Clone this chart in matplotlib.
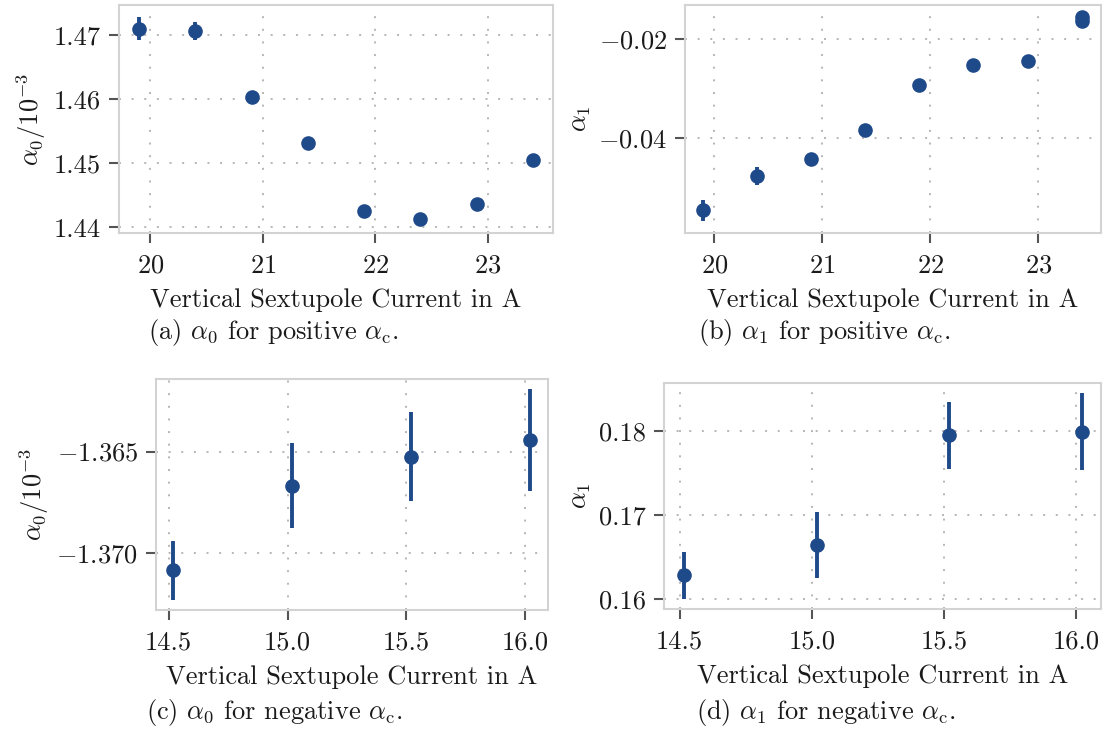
import matplotlib
matplotlib.use("Agg")
import matplotlib.pyplot as plt
import numpy as np

# ---- data ----
x_pos = [19.9, 20.4, 20.9, 21.4, 21.9, 22.4, 22.9, 23.4]
a0_pos = [1.4710, 1.4706, 1.4604, 1.4531, 1.4426, 1.4413, 1.4437, 1.4505]
a0_pos_err = [0.0018, 0.0014, 0.0002, 0.0002, 0.0002, 0.0002, 0.0002, 0.0002]

x_pos_b = [19.9, 20.4, 20.9, 21.4, 21.9, 22.4, 22.9, 23.4, 23.4]
a1_pos = [-0.0548, -0.0478, -0.0444, -0.0384, -0.0293, -0.0253, -0.0244, -0.0155, -0.0163]
a1_pos_err = [0.0022, 0.0018, 0.0003, 0.0003, 0.0003, 0.0003, 0.0003, 0.0003, 0.0003]

x_neg = [14.52, 15.02, 15.52, 16.02]
a0_neg = [-1.37084, -1.36667, -1.36525, -1.36444]
a0_neg_err = [0.00146, 0.00208, 0.00218, 0.0025]

x_neg_d = [14.516, 15.02, 15.52, 16.02]
a1_neg = [0.16285, 0.16646, 0.17949, 0.17992]
a1_neg_err = [0.0028, 0.0039, 0.0040, 0.0046]

xlabel = "Vertical Sextupole Current in A"
captions = [r"(a) $\alpha_0$ for positive $\alpha_\mathrm{c}$.",
            r"(b) $\alpha_1$ for positive $\alpha_\mathrm{c}$.",
            r"(c) $\alpha_0$ for negative $\alpha_\mathrm{c}$.",
            r"(d) $\alpha_1$ for negative $\alpha_\mathrm{c}$."]

plt.rcParams['font.family'] = ['cmr10', 'DejaVu Serif']
plt.rcParams['mathtext.fontset'] = 'cm'
plt.rcParams['axes.formatter.use_mathtext'] = True
plt.rcParams['axes.unicode_minus'] = True

COLOR = '#1f4a8a'
TXT = '#1a1a1a'
FS = 19
W, H = 1103, 734
fig = plt.figure(figsize=(W / 100, H / 100), dpi=100)


def add_ax(l, t, r, b):
    return fig.add_axes([l / W, 1 - b / H, (r - l) / W, (b - t) / H])


def style(ax):
    for s in ax.spines.values():
        s.set_color('#d3d3d3')
        s.set_linewidth(1.5)
    ax.tick_params(direction='out', length=7, width=1.5, color='#555555',
                   labelsize=FS, labelcolor=TXT, pad=6)
    ax.tick_params(axis='x', pad=8)
    ax.grid(True, linestyle=(0, (1, 5.5)), color='#b5b5b5', linewidth=1.4)
    ax.set_axisbelow(True)


def draw(ax, x, y, e):
    ax.errorbar(x, y, yerr=e, fmt='o', color=COLOR, ms=9.5, elinewidth=2.8,
                capsize=0, zorder=3)


# (a)
ax1 = add_ax(119, 5, 553, 233)
draw(ax1, x_pos, a0_pos, a0_pos_err)
ax1.set_xlim(19.72, 23.58)
ax1.set_ylim(1.4391, 1.4747)
ax1.set_xticks([20, 21, 22, 23])
ax1.set_yticks([1.44, 1.45, 1.46, 1.47])
ax1.set_yticklabels(['1.44', '1.45', '1.46', '1.47'])
ax1.set_ylabel(r"$\alpha_0/10^{-3}$", fontsize=FS, color=TXT)

# (b)
ax2 = add_ax(685, 5, 1101, 233)
draw(ax2, x_pos_b, a1_pos, a1_pos_err)
ax2.set_xlim(19.73, 23.58)
ax2.set_ylim(-0.0594, -0.0130)
ax2.set_xticks([20, 21, 22, 23])
ax2.set_yticks([-0.04, -0.02])
ax2.set_yticklabels([r'$-0.04$', r'$-0.02$'])
ax2.set_ylabel(r"$\alpha_1$", fontsize=FS, color=TXT)

# (c)
ax3 = add_ax(156, 379, 548, 610)
draw(ax3, x_neg, a0_neg, a0_neg_err)
ax3.set_xlim(14.447, 16.095)
ax3.set_ylim(-1.37279, -1.36143)
ax3.set_xticks([14.5, 15.0, 15.5, 16.0])
ax3.set_xticklabels(['14.5', '15.0', '15.5', '16.0'])
ax3.set_yticks([-1.370, -1.365])
ax3.set_yticklabels([r'$-1.370$', r'$-1.365$'])
ax3.set_ylabel(r"$\alpha_0/10^{-3}$", fontsize=FS, color=TXT)

# (d)
ax4 = add_ax(664, 383, 1101, 609)
draw(ax4, x_neg_d, a1_neg, a1_neg_err)
ax4.set_xlim(14.441, 16.093)
ax4.set_ylim(0.15881, 0.18574)
ax4.set_xticks([14.5, 15.0, 15.5, 16.0])
ax4.set_xticklabels(['14.5', '15.0', '15.5', '16.0'])
ax4.set_yticks([0.16, 0.17, 0.18])
ax4.set_yticklabels(['0.16', '0.17', '0.18'])
ax4.set_ylabel(r"$\alpha_1$", fontsize=FS, color=TXT)

for ax in (ax1, ax2, ax3, ax4):
    style(ax)
    ax.set_xlabel(xlabel, fontsize=FS, color=TXT, labelpad=8)

cap_pos = [(148, 333), (698, 333), (146, 713), (696, 713)]
for (cx, cy), c in zip(cap_pos, captions):
    fig.text(cx / W, 1 - cy / H, c, fontsize=FS, va='center', ha='left', color=TXT)

fig.savefig('out.png', dpi=100)
